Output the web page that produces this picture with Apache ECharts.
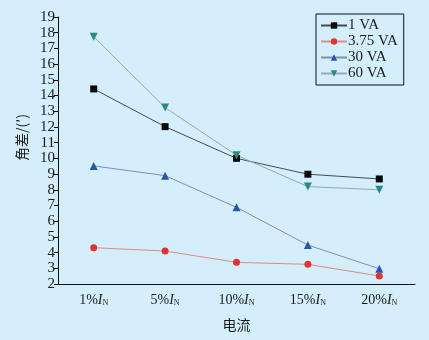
<!DOCTYPE html>
<html>
<head>
<meta charset="utf-8">
<script src="https://cdn.jsdelivr.net/npm/echarts@6/dist/echarts.min.js"></script>
<style>
  html, body { margin: 0; padding: 0; background: #d5eefb; }
  #chart { width: 429px; height: 340px; }
</style>
</head>
<body>
<div id="chart"></div>
<script>
const categories = ['1%', '5%', '10%', '15%', '20%'];
const va1 = [14.42, 12.02, 10.0, 8.99, 8.69];
const va375 = [4.31, 4.1, 3.38, 3.25, 2.51];
const va30 = [9.52, 8.9, 6.88, 4.48, 2.97];
const va60 = [17.75, 13.23, 10.2, 8.2, 8.0];

const serif = '"Liberation Serif", "DejaVu Serif", serif';
const chart = echarts.init(document.getElementById('chart'));

function makeSeries(name, data, symbol, markerColor, lineColor, size) {
  return {
    name: name,
    type: 'line',
    data: data,
    symbol: symbol,
    symbolSize: size,
    symbolRotate: 0,
    lineStyle: { color: lineColor, width: 1 },
    itemStyle: { color: markerColor },
    emphasis: { disabled: true },
    animation: false
  };
}

chart.setOption({
  backgroundColor: '#d5eefb',
  grid: { left: 58, right: 14, top: 17, bottom: 56 },
  legend: {
    orient: 'vertical',
    left: 316,
    top: 14,
    width: 84,
    height: 63,
    padding: [4, 6, 4, 4],
    itemGap: 1,
    itemWidth: 26,
    itemHeight: 8,
    borderColor: '#111',
    borderWidth: 1,
    textStyle: { fontFamily: serif, fontSize: 15, color: '#1a1a1a', padding: [0, 0, 0, -4] },
    data: ['1 VA', '3.75 VA', '30 VA', '60 VA']
  },
  xAxis: [
    {
      type: 'category',
      data: categories,
      name: '电流',
      nameLocation: 'middle',
      nameGap: 34,
      nameTextStyle: { fontFamily: '"Noto Sans CJK SC"', fontSize: 14, color: '#1a1a1a' },
      axisLine: { lineStyle: { color: '#111', width: 1 } },
      axisTick: { alignWithLabel: true, inside: false, length: 5, lineStyle: { color: '#111' } },
      axisLabel: {
        interval: 0,
        margin: 9,
        formatter: function (v) { return v + '{i|I}{s|N}'; },
        fontFamily: serif,
        fontSize: 14,
        color: '#1a1a1a',
        rich: {
          i: { fontFamily: serif, fontStyle: 'italic', fontSize: 14, color: '#1a1a1a' },
          s: { fontFamily: serif, fontSize: 8, color: '#1a1a1a', verticalAlign: 'bottom', padding: [6, 0, 0, 0] }
        }
      },
      splitLine: { show: false }
    },
    {
      type: 'category',
      data: categories,
      position: 'bottom',
      axisLine: { show: false },
      axisTick: { alignWithLabel: false, interval: 0, length: 3, lineStyle: { color: '#111' } },
      axisLabel: { show: false },
      splitLine: { show: false }
    }
  ],
  yAxis: {
    type: 'value',
    min: 2,
    max: 19,
    interval: 1,
    name: '角差/(′)',
    nameLocation: 'middle',
    nameGap: 26,
    nameRotate: 90,
    nameTextStyle: { fontFamily: '"Noto Sans CJK SC"', fontSize: 14, color: '#1a1a1a', padding: [0, 0, 0, 26] },
    axisLine: { show: true, lineStyle: { color: '#111', width: 1 } },
    axisTick: { show: true, length: 4, lineStyle: { color: '#111' } },
    axisLabel: { margin: 3, fontFamily: serif, fontSize: 15, color: '#1a1a1a' },
    splitLine: { show: false }
  },
  series: [
    makeSeries('1 VA', va1, 'rect', '#0a0a0a', '#4a4a4a', 7),
    makeSeries('3.75 VA', va375, 'circle', '#e03333', '#e08a8a', 7),
    makeSeries('30 VA', va30, 'triangle', '#2a55aa', '#7a90b8', 8),
    Object.assign(makeSeries('60 VA', va60, 'triangle', '#2a8a80', '#9aa8b0', 8), { symbolRotate: 180 })
  ]
});
</script>
</body>
</html>
